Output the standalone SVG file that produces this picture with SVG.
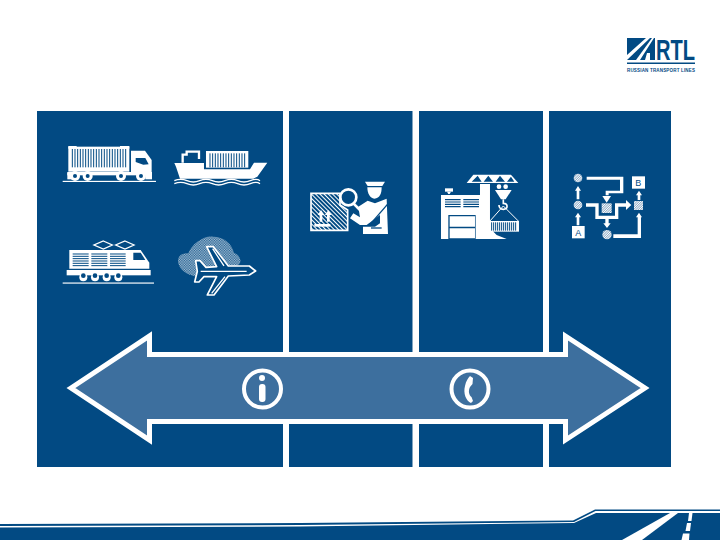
<svg xmlns="http://www.w3.org/2000/svg" width="720" height="540" viewBox="0 0 720 540">
<style>
.b{fill:#024a83}.w{fill:#fff}.lw{fill:none;stroke:#fff}.lb{fill:none;stroke:#024a83}
text{font-family:"Liberation Sans",Arial,sans-serif}
</style>
<defs>
<pattern id="dots" width="5" height="5" patternUnits="userSpaceOnUse"><rect width="5" height="5" fill="#024a83"/><circle cx="1.500" cy="1.500" r="1.500" fill="#fff" fill-opacity=".8"/><circle cx="4" cy="4" r="1.500" fill="#fff" fill-opacity=".8"/></pattern>
<pattern id="hatch" width="9" height="9" patternUnits="userSpaceOnUse" patternTransform="rotate(-45)"><rect width="9" height="9" fill="#fff"/><rect width="6" height="9" fill="#024a83"/></pattern>
<pattern id="hatch2" width="5" height="5" patternUnits="userSpaceOnUse" patternTransform="rotate(45)"><rect width="5" height="5" fill="#fff"/><rect width="2.500" height="5" fill="#8aa8c4"/></pattern>
</defs>

<g id="panel">
<rect class="b" x="37" y="111" width="634" height="356"/>
<g class="w"><rect x="283" y="111" width="6" height="356"/><rect x="412.500" y="111" width="6.500" height="356"/><rect x="543" y="111" width="6" height="356"/></g>
</g>

<g id="truck" transform="translate(50 130) scale(.3333)">
<rect class="w" x="55" y="50" width="183" height="75"/>
<rect class="w" x="55" y="48" width="25" height="8"/><rect class="w" x="210" y="48" width="28" height="8"/>
<path class="lb" stroke-width="3" d="M67 57V112M75 57V112M83 57V112M91 57V112M99 57V112M107 57V112M115 57V112M123 57V112M131 57V112M139 57V112M147 57V112M155 57V112M163 57V112M171 57V112M179 57V112M187 57V112M195 57V112M203 57V112M211 57V112M219 57V112M227 57V112"/>
<path class="w" d="M243 62H285L305 90V128H243Z"/>
<path class="b" d="M257 84H286L296 103L280 104L257 96Z"/>
<rect class="w" x="52" y="126" width="254" height="10"/>
<rect class="w" x="52" y="128" width="20" height="20"/><rect class="w" x="286" y="128" width="20" height="20"/>
<g class="w"><circle cx="75" cy="138" r="15"/><circle cx="113" cy="138" r="15"/><circle cx="213" cy="138" r="15"/><circle cx="273" cy="138" r="15"/></g>
<g class="b"><circle cx="75" cy="138" r="6"/><circle cx="113" cy="138" r="6"/><circle cx="213" cy="138" r="6"/><circle cx="273" cy="138" r="6"/></g>
<rect class="w" x="38" y="152.500" width="280" height="3.500"/>
</g>

<g id="ship" transform="translate(50 130) scale(.3333)">
<rect class="w" x="468" y="63" width="127" height="50"/>
<path class="lb" stroke-width="3" d="M480 70V112M488 70V112M496 70V112M504 70V112M512 70V112M520 70V112M528 70V112M536 70V112M544 70V112M552 70V112M560 70V112M568 70V112M576 70V112M584 70V112"/>
<path class="lw" stroke-width="7" d="M398 98V74H410V65H447V87"/>
<path class="w" d="M373 99H462V118H600L612 98H652L622 140L610 146H390L378 110Z"/>
<path class="lw" stroke-width="4" d="M373 152Q392 144 411 152T449 152T487 152T525 152T563 152T601 152T630 152"/>
<path class="lw" stroke-width="4" d="M373 161Q392 153 411 161T449 161T487 161T525 161T563 161T601 161T630 161"/>
</g>

<g id="train" transform="translate(50 130) scale(.3333)">
<path class="lw" stroke-width="4" d="M160 333L187 345L160 357L132 345ZM225 333L252 345L225 357L197 345Z"/>
<path class="w" d="M58 360H272L298 398V416H58Z"/>
<rect class="w" x="50" y="420" width="252" height="16"/>
<path class="lb" stroke-width="3" d="M68 372H116M68 379H116M68 386H116M68 393H116M68 400H116M68 407H116M124 372H172M124 379H172M124 386H172M124 393H172M124 400H172M124 407H172M180 372H227M180 379H227M180 386H227M180 393H227M180 400H227M180 407H227"/>
<path class="b" d="M250 368H272L286 390H250Z"/>
<g class="w"><circle cx="100" cy="442" r="12"/><circle cx="135" cy="442" r="12"/><circle cx="170" cy="442" r="12"/><circle cx="205" cy="442" r="12"/></g>
<g class="b"><circle cx="100" cy="437" r="7"/><circle cx="135" cy="437" r="7"/><circle cx="170" cy="437" r="7"/><circle cx="205" cy="437" r="7"/></g>
<rect class="w" x="38" y="457.500" width="274" height="3.500"/>
</g>

<g id="plane" transform="translate(50 130) scale(.3333)">
<path fill="url(#dots)" d="M385 400C380 380 395 368 415 370C425 340 465 315 490 320C520 320 545 340 552 368C570 375 578 395 565 405L510 425L440 440C410 435 390 420 385 400Z"/>
<path class="b" stroke="#fff" stroke-width="5" stroke-linejoin="round" d="M437 392L450 392L468 412L500 410L470 350L490 350L535 408L598 408L617 423L598 435L535 438L492 495L472 495L500 440L462 440L447 456L434 456L442 424Z"/>
<path class="lw" stroke-width="4" d="M488 356L522 408M485 490L525 440M452 424H590"/>
</g>

<g id="customs" transform="translate(295 160) scale(.3333)">
<path fill="url(#hatch)" stroke="#fff" stroke-width="5" d="M48 100H135V135L158 150V211H48Z"/>
<rect class="w" x="58" y="192" width="48" height="8"/>
<path class="w" d="M78 150L88 165H82V185H74V165H68ZM100 150L110 165H104V185H96V165H90Z"/>
<circle class="b" cx="160" cy="112" r="24" stroke="#fff" stroke-width="8"/>
<path class="lw" stroke-width="8" d="M175 130L195 150"/>
<path class="w" d="M210 65H270L262 78H218Z"/>
<path class="w" d="M217 82H260C260 100 255 115 238 116C225 115 217 100 217 82Z"/>
<path class="w" d="M190 140L218 122L240 130L275 116L279 222H204V200L240 200L255 190V165L215 195H195L165 175L175 160L195 172Z"/>
<path class="lb" stroke-width="4" d="M230 188L280 130"/>
<path class="lb" stroke-width="4" d="M228 204H260"/>
</g>

<g id="port" transform="translate(295 160) scale(.3333)">
<path class="w" d="M515 69L535 44H648L670 69Z"/>
<path class="b" d="M530 65L548 47L560 65ZM566 65L580 47L594 65ZM602 65L615 47L630 65ZM636 65L648 50L658 65Z"/>
<path class="w" d="M438 105H555V72H585V205L605 225L635 237H438Z"/>
<rect class="w" x="450" y="85" width="24" height="10"/><path class="w" d="M456 95H468L464 102H460Z"/>
<path class="lb" stroke-width="3.500" d="M450 119H497M450 126H497M450 133H497M450 140H497M505 119H552M505 126H552M505 133H552M505 140H552"/>
<path class="b" d="M460 165H542V237H460Z"/>
<path class="w" d="M464 169H540V200H464ZM464 205H540V235H464Z"/>
<circle class="w" cx="612" cy="80" r="7"/><circle class="w" cx="632" cy="80" r="7"/>
<path class="w" d="M600 90H650L632 118H618Z"/>
<path class="lw" stroke-width="5" d="M625 118V130C640 130 640 148 625 148C615 148 612 140 612 135"/>
<path class="lw" stroke-width="3" d="M625 138L585 183M625 138L670 183"/>
<rect class="w" x="582" y="183" width="90" height="32"/>
<path class="lb" stroke-width="3" d="M590 187V212M596 187V212M602 187V212M608 187V212M614 187V212M620 187V212M626 187V212M632 187V212M638 187V212M644 187V212M650 187V212M656 187V212M662 187V212"/>
</g>

<g id="flow" transform="translate(560 160) scale(.3333)">
<circle cx="54" cy="54" r="13" fill="url(#hatch2)"/>
<circle cx="54" cy="135" r="13" fill="url(#hatch2)"/>
<circle cx="141" cy="224" r="14" fill="url(#hatch2)"/>
<rect x="125" y="130" width="30" height="29" fill="url(#hatch2)"/>
<rect x="222" y="123" width="27" height="27" fill="url(#hatch2)"/>
<g class="w">
<path d="M54 78L63 92H58V118H50V92H45Z"/>
<path d="M54 158L63 172H58V196H50V172H45Z"/>
<path d="M237 92L246 106H241V120H233V106H228Z"/>
<path d="M237 158L246 172H243V234H160V223H233V172H228Z"/>
<path d="M80 50H190V100H146V106H137V92H180V59H80Z"/>
<path d="M140 128L127 108H153Z"/>
<path d="M78 130H116V167H165V130H198V120L214 135L198 150V140H175V177H106V140H78Z"/>
<path d="M136 177H146V190H152L141 204L130 190H136Z"/>
<rect x="36" y="198" width="38" height="37"/>
<rect x="216" y="49" width="39" height="37"/>
</g>
<text x="55" y="227" font-size="27" text-anchor="middle" fill="#024a83">A</text>
<text x="235" y="78" font-size="27" text-anchor="middle" fill="#024a83">B</text>
</g>

<g id="double-arrow">
<path fill="#3d6f9e" stroke="#fff" stroke-width="5" stroke-miterlimit="10" d="M71 388L149.500 336V354.500H565.500V336L645 388L565.500 440V421.500H149.500V440Z"/>
</g>

<g id="info">
<circle class="lw" cx="262.500" cy="389" r="18.500" stroke-width="4"/>
<circle class="w" cx="262" cy="378" r="3"/>
<rect class="w" x="259" y="384" width="6.500" height="18" rx="3"/>
</g>

<g id="phone">
<circle class="lw" cx="470" cy="389" r="18.500" stroke-width="4"/>
<path class="w" d="M470 376L473 378L472.500 384L470 387C468 391 469 395 471.500 397L473 401L471 403C466 401 463 393 465 386C466 381 468 378 470 376Z"/>
</g>

<g id="logo">
<path class="b" d="M627 38H646L627 55Z"/>
<path class="b" d="M627 60L650 38H652L636 60Z"/>
<path class="b" d="M640 60L654 38H655V60H650V53H647L645 60Z"/>
<text x="656" y="60" font-size="30" font-weight="700" fill="#024a83" textLength="39" lengthAdjust="spacingAndGlyphs">RTL</text>
<rect class="b" x="627" y="62.500" width="68" height="1.500"/>
<text x="627" y="71.500" font-size="4.500" font-weight="700" fill="#024a83" textLength="68" lengthAdjust="spacing">RUSSIAN TRANSPORT LINES</text>
</g>

<g id="footer">
<path class="b" d="M0 524L300 523L573 520.500L595 509.500H720V511H595.500L574 522L300 525L0 526Z"/>
<path class="b" d="M0 527.500L300 526.500L574 523L596 513H720V540H0Z"/>
<path class="w" d="M622 540L670 513H678L642 540Z"/>
<path class="w" d="M689 513H692.500L691.500 521H688ZM687 523H691L690 531H685.500ZM683 533.500H689.500L689 540H681.500Z"/>
</g>
</svg>
